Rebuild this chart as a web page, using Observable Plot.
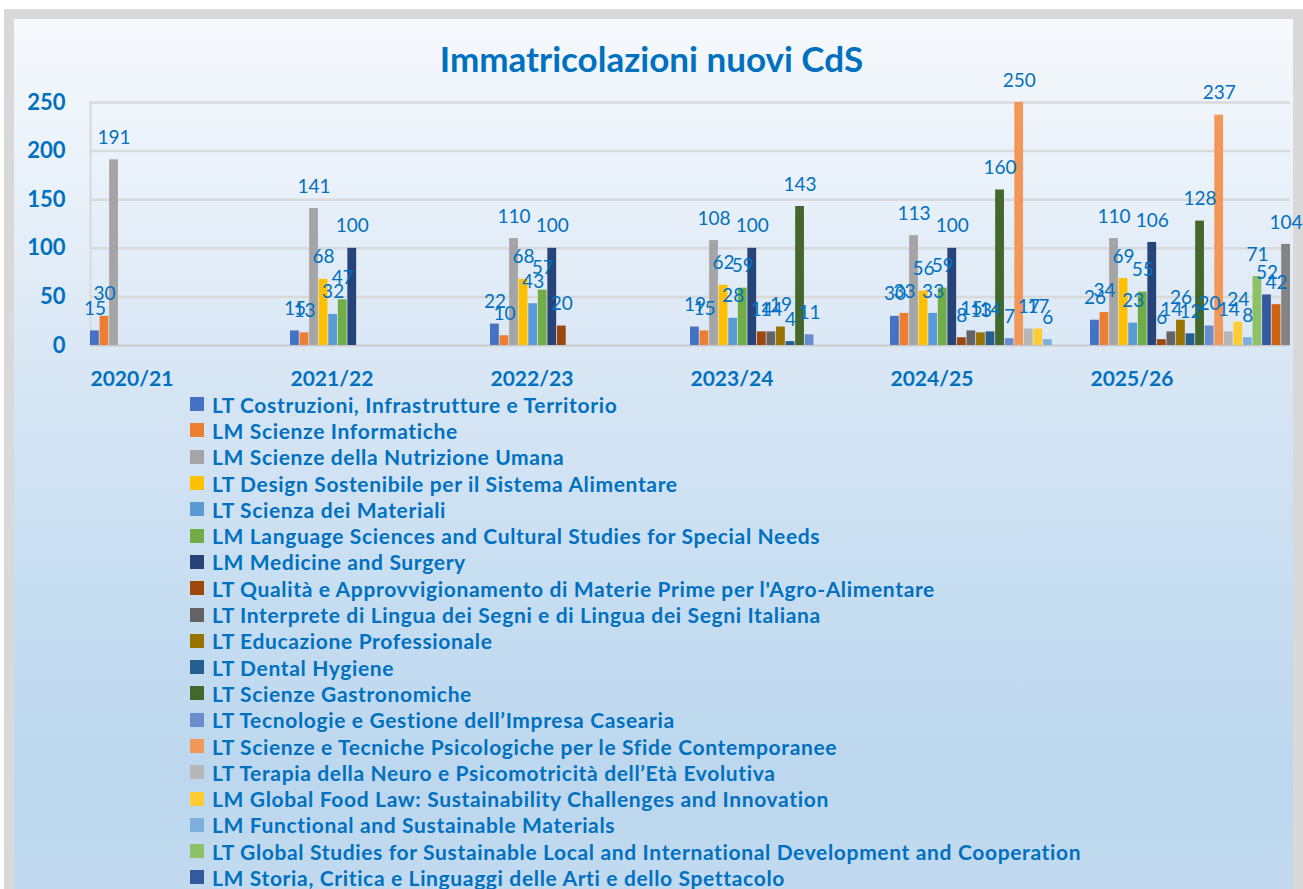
<!DOCTYPE html>
<html><head><meta charset="utf-8">
<script src="https://cdn.jsdelivr.net/npm/d3@7"></script>
<script src="https://cdn.jsdelivr.net/npm/@observablehq/plot@0.6"></script>
<style>
html,body{margin:0;padding:0;width:1303px;height:889px;overflow:hidden;background:#fff;font-family:Lato,"Open Sans",sans-serif;}
#frame{position:absolute;left:4px;top:9px;width:1279px;height:900px;border:10px solid #d9d9d9;border-bottom:none;
  background:linear-gradient(to bottom,#f6f9fc 0%,#e8f0f9 20%,#d6e5f4 42%,#c6ddf1 65%,#bcd7ee 85%,#c3dbf0 100%);}
#title{position:absolute;left:0;top:38px;width:1303px;text-align:center;font-weight:bold;font-size:35px;color:#0070C0;line-height:40px;}
#chart{position:absolute;left:0;top:70px;}
#legend{position:absolute;left:190px;top:391px;}
.item{height:26.3px;display:flex;align-items:center;font-weight:bold;font-size:21px;letter-spacing:0.65px;color:#0070C0;white-space:nowrap;}
.sw{width:14px;height:14px;margin-right:8px;flex:none;}
#chart svg g[aria-label="y-axis tick label"] text{font-weight:bold;}
</style></head>
<body>
<div id="frame"></div>
<div id="title">Immatricolazioni nuovi CdS</div>
<div id="chart"></div>
<div id="legend"></div>
<script>
const years = ["2020/21","2021/22","2022/23","2023/24","2024/25","2025/26"];
const courses = [
  "LT Costruzioni, Infrastrutture e Territorio",
  "LM Scienze Informatiche",
  "LM Scienze della Nutrizione Umana",
  "LT Design Sostenibile per il Sistema Alimentare",
  "LT Scienza dei Materiali",
  "LM Language Sciences and Cultural Studies for Special Needs",
  "LM Medicine and Surgery",
  "LT Qualità e Approvvigionamento di Materie Prime per l'Agro-Alimentare",
  "LT Interprete di Lingua dei Segni e di Lingua dei Segni Italiana",
  "LT Educazione Professionale",
  "LT Dental Hygiene",
  "LT Scienze Gastronomiche",
  "LT Tecnologie e Gestione dell’Impresa Casearia",
  "LT Scienze e Tecniche Psicologiche per le Sfide Contemporanee",
  "LT Terapia della Neuro e Psicomotricità dell’Età Evolutiva",
  "LM Global Food Law: Sustainability Challenges and Innovation",
  "LM Functional and Sustainable Materials",
  "LT Global Studies for Sustainable Local and International Development and Cooperation",
  "LM Storia, Critica e Linguaggi delle Arti e dello Spettacolo",
  "CdS 20",
  "CdS 21"
];
const colors = ["#4472C4","#ED7D31","#A5A5A5","#FFC000","#5B9BD5","#70AD47","#264478","#9E480E","#636363","#997300","#255E91","#43682B","#698ED0","#F1975A","#B7B7B7","#FFCD33","#7CAFDD","#8CC168","#335AA1","#D26012","#848484"];
const v2020_21 = [15,30,191];
const v2021_22 = [15,13,141,68,32,47,100];
const v2022_23 = [22,10,110,68,43,57,100,20];
const v2023_24 = [19,15,108,62,28,59,100,14,14,19,4,143,11];
const v2024_25 = [30,33,113,56,33,59,100,8,15,13,14,160,7,250,17,17,6];
const v2025_26 = [26,34,110,69,23,55,106,6,14,26,12,128,20,237,14,24,8,71,52,42,104];
const yTicks = [0,50,100,150,200,250];

const valuesByYear = [v2020_21,v2021_22,v2022_23,v2023_24,v2024_25,v2025_26];
const data = years.flatMap((y,i)=>valuesByYear[i].map((v,j)=>({year:y,course:courses[j],value:v})));

const blue = "#0070C0";
const chart = Plot.plot({
  width:1303, height:330,
  marginLeft:90, marginRight:13, marginTop:32, marginBottom:55,
  style:{background:"transparent", fontFamily:"Lato, sans-serif", overflow:"visible"},
  fx:{domain:years, padding:0, round:false, axis:null},
  x:{domain:courses, axis:null, paddingInner:0.08, paddingOuter:0, round:false},
  y:{domain:[0,250], axis:null},
  color:{domain:courses, range:colors},
  marks:[
    Plot.ruleY(yTicks.slice(1), {stroke:"#d9d9d9", strokeWidth:2.5}),
    Plot.ruleY([0], {stroke:"#c8c8c8", strokeWidth:2}),
    Plot.frame({anchor:"left", facetAnchor:"left", stroke:"#d9d9d9", strokeWidth:2}),
    Plot.axisY({ticks:yTicks, tickSize:0, tickPadding:25, fontSize:22, fontWeight:"bold", color:blue, label:null, anchor:"left"}),
    Plot.barY(data, {fx:"year", x:"course", y:"value", fill:"course"}),
    Plot.text(data, {fx:"year", x:"course", y:"value", text:"value", dy:-22, fill:blue, fontSize:19}),
    Plot.text(years, {fx:d=>d, text:d=>d, frameAnchor:"bottom-left", textAnchor:"start", dy:40, fontSize:21, fontWeight:"bold", fill:blue})
  ]
});
document.getElementById("chart").appendChild(chart);

const legend = document.getElementById("legend");
courses.forEach((c,i)=>{
  const it = document.createElement("div"); it.className="item";
  const sw = document.createElement("span"); sw.className="sw"; sw.style.background=colors[i];
  const t = document.createElement("span"); t.textContent=c;
  it.appendChild(sw); it.appendChild(t); legend.appendChild(it);
});
</script>
</body></html>
